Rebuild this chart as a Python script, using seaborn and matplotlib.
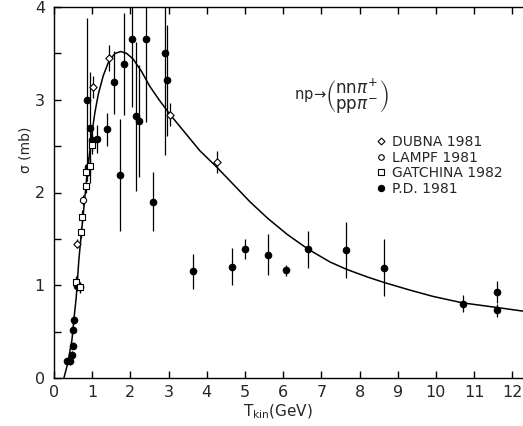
import numpy as np
import pandas as pd
import matplotlib
matplotlib.use("Agg")
import matplotlib.pyplot as plt
import seaborn as sns
from matplotlib.lines import Line2D

# ---------------- data ----------------
# P.D. 1981 (filled circles)
pd_T = [0.35, 0.42, 0.47, 0.50, 0.50, 0.53, 0.60, 0.68,
        0.86, 0.89, 0.94, 0.99, 1.13, 1.38, 1.57, 1.73, 1.84, 2.05, 2.15,
        2.23, 2.41, 2.60, 2.90, 2.96, 3.64, 4.66, 5.00, 5.60, 6.07, 6.65,
        7.64, 8.64, 10.70, 11.60, 11.60]
pd_S = [0.18, 0.18, 0.25, 0.35, 0.52, 0.63, 0.99, 0.98,
        3.00, 2.28, 2.70, 2.57, 2.58, 2.68, 3.19, 2.19, 3.39, 3.66, 2.82,
        2.77, 3.66, 1.90, 3.50, 3.21, 1.15, 1.20, 1.39, 1.33, 1.16, 1.39,
        1.38, 1.19, 0.80, 0.93, 0.73]
pd_E = [0.04, 0.04, 0.04, 0.04, 0.04, 0.05, 0.05, 0.05,
        0.88, 0.10, 0.60, 0.12, 0.15, 0.18, 0.34, 0.60, 0.55, 0.74, 0.80,
        0.60, 0.90, 0.32, 1.10, 0.60, 0.19, 0.20, 0.11, 0.22, 0.06, 0.20,
        0.30, 0.31, 0.09, 0.12, 0.07]

# DUBNA 1981 (open diamonds)
du_T = [0.60, 1.02, 1.44, 3.04, 4.27]
du_S = [1.45, 3.14, 3.45, 2.84, 2.33]
du_E = [0.05, 0.12, 0.14, 0.12, 0.12]

# LAMPF 1981 (open circles)
la_T = [0.76]
la_S = [1.92]
la_E = [0.05]

# GATCHINA 1982 (open squares)
ga_T = [0.57, 0.68, 0.70, 0.73, 0.83, 0.84, 0.94, 1.00]
ga_S = [1.04, 0.98, 1.57, 1.74, 2.07, 2.22, 2.29, 2.51]
ga_E = [0.06, 0.06, 0.06, 0.07, 0.07, 0.08, 0.08, 0.10]

# theoretical curve
curve_T = [0.26, 0.36, 0.47, 0.52, 0.58, 0.62, 0.65, 0.70, 0.76, 0.82, 0.88,
           0.94, 1.00, 1.07, 1.16, 1.29, 1.44, 1.60, 1.75, 1.90, 2.07, 2.30,
           2.50, 2.75, 3.04, 3.40, 3.82, 4.27, 4.69, 5.13, 5.60, 6.10, 6.65,
           7.23, 7.67, 8.20, 8.64, 9.30, 9.92, 10.70, 11.60, 12.30]
curve_S = [0.00, 0.16, 0.41, 0.63, 0.86, 1.09, 1.27, 1.49, 1.74, 2.00, 2.25,
           2.45, 2.66, 2.86, 3.06, 3.26, 3.42, 3.50, 3.52, 3.50, 3.44, 3.30,
           3.15, 3.00, 2.84, 2.66, 2.45, 2.27, 2.09, 1.90, 1.72, 1.55, 1.39,
           1.25, 1.17, 1.09, 1.03, 0.95, 0.88, 0.81, 0.76, 0.72]

x_ticks = list(range(0, 13))
y_ticks = [0, 1, 2, 3, 4]
y_minor = [0.5, 1.5, 2.5, 3.5]
legend_labels = ["DUBNA 1981", "LAMPF 1981", "GATCHINA 1982", "P.D. 1981"]

# ---------------- style ----------------
sns.set_style("ticks")
plt.rcParams['font.family'] = ['DejaVu Sans']
plt.rcParams['mathtext.fontset'] = 'dejavusans'

fig = plt.figure(figsize=(5.23, 4.26), dpi=100)
ax = fig.add_axes([54 / 523, 1 - 378 / 426, 1 - 54 / 523, (378 - 7) / 426])

curve_df = pd.DataFrame({"T": curve_T, "sigma": curve_S})
sns.lineplot(data=curve_df, x="T", y="sigma", ax=ax, color="black",
             lw=1.1, sort=False, estimator=None, zorder=2)

def draw(T, S, E, marker, filled, size):
    ax.errorbar(T, S, yerr=E, fmt="none", ecolor="black", elinewidth=0.9,
                capsize=0, zorder=3)
    df = pd.DataFrame({"T": T, "sigma": S})
    sns.scatterplot(data=df, x="T", y="sigma", ax=ax, marker=marker, s=size,
                    color="black" if filled else "white",
                    edgecolor="black", linewidth=0.8, zorder=4, legend=False)

draw(pd_T, pd_S, pd_E, "o", True, 22)
draw(ga_T, ga_S, ga_E, "s", False, 18)
draw(la_T, la_S, la_E, "o", False, 20)
draw(du_T, du_S, du_E, "D", False, 14)

ax.set_xlim(0, 12.28)
ax.set_ylim(0, 4)
ax.set_xticks(x_ticks)
ax.set_xticklabels([str(t) for t in x_ticks])
ax.set_yticks(y_ticks)
ax.set_yticklabels([str(t) for t in y_ticks])
ax.set_yticks(y_minor, minor=True)
ax.tick_params(axis="both", which="both", direction="in", top=True,
               right=False, length=5, width=1.0, color="black")
ax.tick_params(axis="x", labelsize=11.5, pad=5)
ax.tick_params(axis="y", labelsize=11.5, pad=6.5)
for side in ["left", "bottom", "top"]:
    ax.spines[side].set_linewidth(1.0)
    ax.spines[side].set_color("black")
ax.spines["right"].set_visible(False)

ax.set_xlabel(r"$\mathrm{T_{kin}}$(GeV)", fontsize=11)
ax.xaxis.set_label_coords(0.477, -0.067)
ax.set_ylabel("σ (mb)", fontsize=10)
ax.yaxis.set_label_coords(-0.045, 0.615)

# reaction label: "np ->" followed by the stacked final states in brackets
ax.text(7.15, 3.04, r"$\mathrm{np}\!\rightarrow$", fontsize=10.5,
        ha="right", va="center")
ax.text(7.10, 3.04,
        r"$\genfrac{(}{)}{0}{0}{\mathrm{nn}\pi^{+}}{\mathrm{pp}\pi^{-}}$",
        fontsize=12, ha="left", va="center")

handles = [
    Line2D([], [], marker="D", ls="none", mfc="white", mec="black", ms=3.5, mew=0.8),
    Line2D([], [], marker="o", ls="none", mfc="white", mec="black", ms=4, mew=0.8),
    Line2D([], [], marker="s", ls="none", mfc="white", mec="black", ms=4, mew=0.8),
    Line2D([], [], marker="o", ls="none", mfc="black", mec="black", ms=4.5, mew=0.8),
]
ax.legend(handles, legend_labels, loc="upper left", bbox_to_anchor=(0.689, 0.655),
          frameon=False, fontsize=10, borderpad=0, borderaxespad=0,
          handlelength=0.6, handletextpad=0.5, labelspacing=0.12)

fig.savefig("out.png", dpi=100)
